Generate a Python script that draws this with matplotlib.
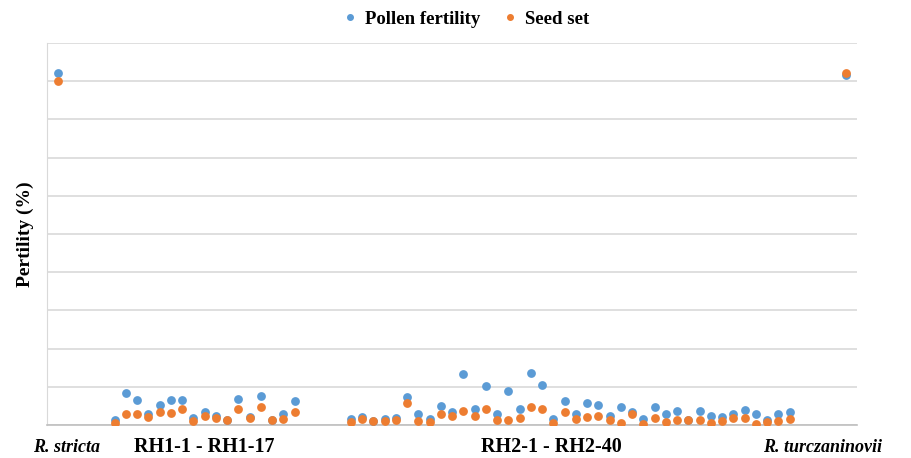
import numpy as np
import matplotlib.pyplot as plt
from matplotlib.lines import Line2D

# Pollen fertility / seed set (%)
stricta_pollen = [92.1]
stricta_seed = [90.0]

rh1_pollen = [1.3, 8.3, 6.6, 2.9, 5.3, 6.5, 6.6, 1.9, 3.5, 2.3,
              1.3, 6.9, 2.0, 7.6, 1.3, 2.8, 6.2]
rh1_seed = [0.4, 2.9, 2.8, 2.0, 3.4, 3.2, 4.1, 1.1, 2.3, 1.9,
            1.2, 4.1, 1.9, 4.6, 1.2, 1.6, 3.3]

rh2_pollen = [1.5, 2.2, 1.0, 1.7, 1.9, 7.4, 2.9, 1.7, 5.0, 3.4,
              13.4, 4.3, 10.3, 2.8, 8.9, 4.3, 13.7, 10.5, 1.5, 6.3,
              2.9, 5.7, 5.3, 2.4, 4.6, 3.3, 1.5, 4.6, 2.9, 3.7,
              1.3, 3.7, 2.4, 2.0, 3.0, 3.9, 2.8, 1.3, 3.0, 3.5]
rh2_seed = [0.8, 1.7, 1.0, 1.0, 1.3, 5.7, 1.0, 0.8, 2.9, 2.4,
            3.7, 2.3, 4.2, 1.3, 1.3, 1.8, 4.6, 4.2, 0.5, 3.4,
            1.7, 2.1, 2.4, 1.3, 0.5, 2.9, 0.3, 1.9, 0.7, 1.3,
            1.3, 1.2, 0.5, 1.0, 1.9, 1.9, 0.3, 0.8, 1.0, 1.7]

turcz_pollen = [91.7]
turcz_seed = [92.2]

group_labels = ["R. stricta", "RH1-1 - RH1-17", "RH2-1 - RH2-40", "R. turczaninovii"]
label_pos = [1.7, 14.0, 44.8, 68.9]

BLUE = "#5B9BD5"
ORANGE = "#ED7D31"

# x positions: groups separated by 4 empty slots
x_stricta = np.array([1])
x_rh1 = np.arange(6, 6 + len(rh1_pollen))
x_rh2 = np.arange(27, 27 + len(rh2_pollen))
x_turcz = np.array([71])

x_all = np.concatenate([x_stricta, x_rh1, x_rh2, x_turcz])
pollen = np.concatenate([stricta_pollen, rh1_pollen, rh2_pollen, turcz_pollen])
seed = np.concatenate([stricta_seed, rh1_seed, rh2_seed, turcz_seed])

plt.rcParams['font.family'] = ['Liberation Serif', 'DejaVu Serif']

fig = plt.figure(figsize=(9.11, 4.58), dpi=100)
ax = fig.add_axes([47 / 911, 33 / 458, 810 / 911, 382 / 458])

ax.scatter(x_all, pollen, s=40, color=BLUE, zorder=3, linewidths=0)
ax.scatter(x_all, seed, s=40, color=ORANGE, zorder=4, linewidths=0)

ax.set_xlim(0, 72)
ax.set_ylim(0, 100)
ax.set_yticks(np.arange(0, 101, 10))
ax.yaxis.grid(True, color="#D9D9D9", linewidth=1.2)
ax.set_axisbelow(True)
ax.set_xticks([])
ax.tick_params(axis='y', length=0, labelleft=False)
for side in ["top", "right"]:
    ax.spines[side].set_visible(False)
ax.spines["left"].set_color("#D9D9D9")
ax.spines["bottom"].set_color("#BFBFBF")
ax.spines["bottom"].set_linewidth(1.2)

ax.set_ylabel("Pertility (%)", fontsize=14, fontweight="bold", labelpad=9)

# group labels under the axis
for lx, txt in zip(label_pos, group_labels):
    italic = txt.startswith("R. ")
    ax.text(lx, -0.058, txt, transform=ax.get_xaxis_transform(), ha="center", va="center",
            fontsize=13 if italic else 14.5, fontweight="bold",
            style="italic" if italic else "normal")

handles = [Line2D([], [], marker="o", linestyle="", color=BLUE, markersize=4),
           Line2D([], [], marker="o", linestyle="", color=ORANGE, markersize=4)]
fig.legend(handles, ["Pollen fertility", "Seed set"], loc="center", bbox_to_anchor=(0.51, 0.958),
           ncol=2, frameon=False, prop={"weight": "bold", "size": 13.5},
           handletextpad=0.3, columnspacing=1.1, handlelength=1.0)

fig.savefig("out.png", dpi=100)
